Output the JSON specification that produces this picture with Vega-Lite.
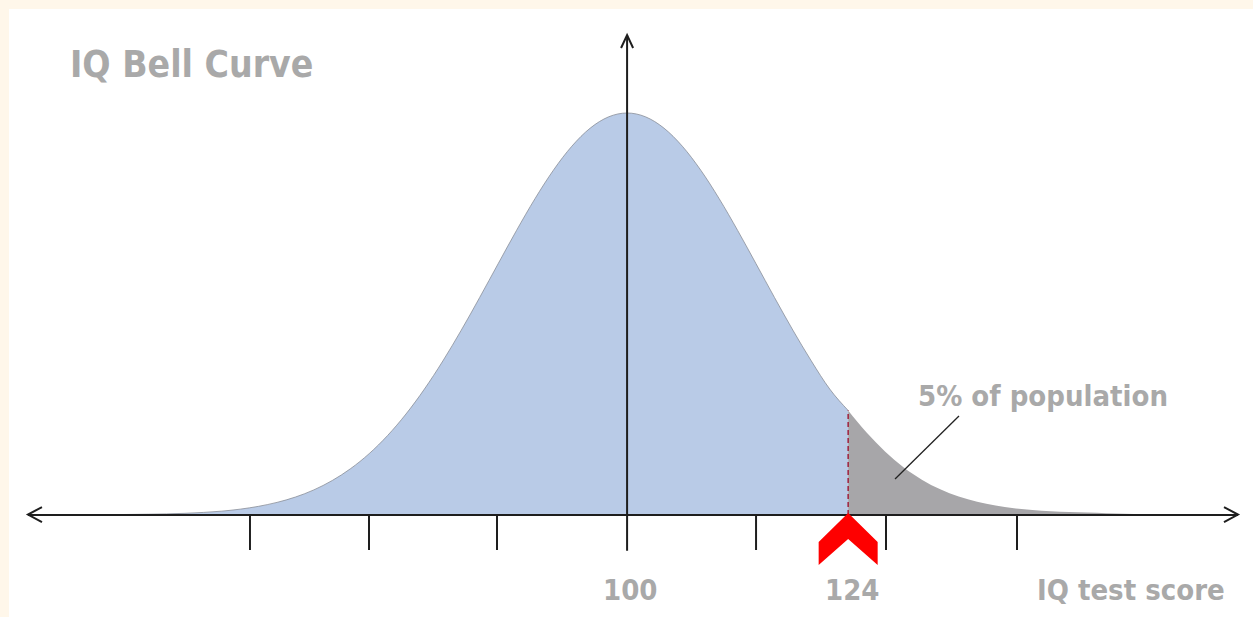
{
  "$schema": "https://vega.github.io/schema/vega-lite/v6.json",
  "width": 1253,
  "height": 617,
  "autosize": {"type": "fit", "contains": "padding"},
  "padding": {"left": 9, "top": 9, "right": 0, "bottom": 0},
  "background": "#fff7ea",
  "config": {"view": {"stroke": null, "fill": "#ffffff"}},
  "datasets": {
    "curve": [
      {"iq": 44.5, "h": 0.1, "part": "main"}, {"iq": 46, "h": 0.14, "part": "main"}, {"iq": 48, "h": 0.2, "part": "main"},
      {"iq": 50, "h": 0.28, "part": "main"}, {"iq": 52, "h": 0.42, "part": "main"}, {"iq": 54, "h": 0.64, "part": "main"},
      {"iq": 56, "h": 0.96, "part": "main"}, {"iq": 58, "h": 1.46, "part": "main"}, {"iq": 60, "h": 2.16, "part": "main"},
      {"iq": 62, "h": 3.14, "part": "main"}, {"iq": 64, "h": 4.47, "part": "main"}, {"iq": 66, "h": 6.25, "part": "main"},
      {"iq": 68, "h": 8.59, "part": "main"}, {"iq": 70, "h": 11.56, "part": "main"}, {"iq": 72, "h": 15.26, "part": "main"},
      {"iq": 74, "h": 19.77, "part": "main"}, {"iq": 76, "h": 25.13, "part": "main"}, {"iq": 78, "h": 31.33, "part": "main"},
      {"iq": 80, "h": 38.32, "part": "main"}, {"iq": 82, "h": 45.98, "part": "main"}, {"iq": 84, "h": 54.12, "part": "main"},
      {"iq": 86, "h": 62.5, "part": "main"}, {"iq": 88, "h": 70.8, "part": "main"}, {"iq": 90, "h": 78.68, "part": "main"},
      {"iq": 92, "h": 85.77, "part": "main"}, {"iq": 94, "h": 91.73, "part": "main"}, {"iq": 96, "h": 96.24, "part": "main"},
      {"iq": 98, "h": 99.05, "part": "main"}, {"iq": 100, "h": 100, "part": "main"}, {"iq": 102, "h": 99.05, "part": "main"},
      {"iq": 104, "h": 96.24, "part": "main"}, {"iq": 106, "h": 91.73, "part": "main"}, {"iq": 108, "h": 85.77, "part": "main"},
      {"iq": 110, "h": 78.68, "part": "main"}, {"iq": 112, "h": 70.8, "part": "main"}, {"iq": 114, "h": 62.5, "part": "main"},
      {"iq": 116, "h": 54.12, "part": "main"}, {"iq": 118, "h": 45.98, "part": "main"}, {"iq": 120, "h": 38.32, "part": "main"},
      {"iq": 122, "h": 31.33, "part": "main"}, {"iq": 124, "h": 26.0, "part": "main"},
      {"iq": 124, "h": 26.0, "part": "tail"}, {"iq": 126, "h": 20.5, "part": "tail"}, {"iq": 128, "h": 15.8, "part": "tail"},
      {"iq": 130, "h": 11.9, "part": "tail"}, {"iq": 132, "h": 8.8, "part": "tail"}, {"iq": 134, "h": 6.4, "part": "tail"},
      {"iq": 136, "h": 4.6, "part": "tail"}, {"iq": 138, "h": 3.3, "part": "tail"}, {"iq": 140, "h": 2.35, "part": "tail"},
      {"iq": 142, "h": 1.7, "part": "tail"}, {"iq": 144, "h": 1.25, "part": "tail"}, {"iq": 146, "h": 0.95, "part": "tail"},
      {"iq": 148, "h": 0.75, "part": "tail"}, {"iq": 150, "h": 0.6, "part": "tail"}, {"iq": 152, "h": 0.45, "part": "tail"},
      {"iq": 154, "h": 0.32, "part": "tail"}, {"iq": 156, "h": 0.18, "part": "tail"}, {"iq": 157.4, "h": 0.05, "part": "tail"}
    ],
    "axes": [
      {"iq": 34.96, "iq2": 166.32, "h": 0, "h2": 0},
      {"iq": 100, "iq2": 100, "h": -8.9, "h2": 119.4},
      {"iq": 59.06, "iq2": 59.06, "h": 0, "h2": -8.71},
      {"iq": 71.98, "iq2": 71.98, "h": 0, "h2": -8.71},
      {"iq": 85.88, "iq2": 85.88, "h": 0, "h2": -8.71},
      {"iq": 114.0, "iq2": 114.0, "h": 0, "h2": -8.71},
      {"iq": 128.11, "iq2": 128.11, "h": 0, "h2": -8.71},
      {"iq": 142.33, "iq2": 142.33, "h": 0, "h2": -8.71}
    ],
    "arrows": [
      {"iq": 34.96, "h": 0.1, "dir": "left"},
      {"iq": 166.32, "h": 0.1, "dir": "right"},
      {"iq": 100, "h": 119.4, "dir": "up"}
    ],
    "cut": [{"iq": 124, "iq2": 124, "h": 0, "h2": 26.0}],
    "leader": [{"iq": 129.09, "iq2": 136.03, "h": 8.96, "h2": 24.63}],
    "marker": [{"iq": 124, "h": -5.97}],
    "title": [{"iq": 39.52, "h": 108.96, "label": "IQ Bell Curve"}],
    "labels": [
      {"iq": 131.58, "h": 27.11, "label": "5% of population"},
      {"iq": 97.39, "h": -21.14, "label": "100"},
      {"iq": 121.49, "h": -21.14, "label": "124"},
      {"iq": 144.5, "h": -21.14, "label": "IQ test score"}
    ]
  },
  "encoding": {
    "x": {"field": "iq", "type": "quantitative", "scale": {"domain": [32.9, 167.95], "nice": false, "zero": false}, "axis": null},
    "y": {"field": "h", "type": "quantitative", "scale": {"domain": [-25.37, 125.87], "nice": false, "zero": false}, "axis": null}
  },
  "layer": [
    {
      "data": {"name": "curve"},
      "mark": {"type": "area", "interpolate": "monotone"},
      "encoding": {
        "y2": {"datum": 0},
        "color": {"field": "part", "type": "nominal", "scale": {"domain": ["main", "tail"], "range": ["#b9cbe7", "#a7a6a9"]}, "legend": null}
      }
    },
    {
      "data": {"name": "curve"},
      "transform": [{"filter": "datum.part === 'main'"}],
      "mark": {"type": "line", "interpolate": "monotone", "stroke": "#8a8f99", "strokeWidth": 1, "opacity": 0.8},
      "encoding": {}
    },
    {
      "data": {"name": "axes"},
      "mark": {"type": "rule", "stroke": "#1e1e1e", "strokeWidth": 2},
      "encoding": {"x2": {"field": "iq2"}, "y2": {"field": "h2"}}
    },
    {
      "data": {"name": "arrows"},
      "mark": {"type": "point", "filled": false, "size": 784, "stroke": "#1e1e1e", "strokeWidth": 2, "opacity": 1},
      "encoding": {
        "shape": {"field": "dir", "type": "nominal", "legend": null,
          "scale": {"domain": ["left", "right", "up"], "range": ["M1,-0.54L0,0L1,0.54", "M-1,-0.54L0,0L-1,0.54", "M-0.43,0.93L0,0L0.43,0.93"]}}
      }
    },
    {
      "data": {"name": "cut"},
      "mark": {"type": "rule", "stroke": "#a0203c", "strokeWidth": 1.5, "strokeDash": [5, 3]},
      "encoding": {"x2": {"field": "iq2"}, "y2": {"field": "h2"}}
    },
    {
      "data": {"name": "leader"},
      "mark": {"type": "rule", "stroke": "#222222", "strokeWidth": 1.3},
      "encoding": {"x2": {"field": "iq2"}, "y2": {"field": "h2"}}
    },
    {
      "data": {"name": "marker"},
      "mark": {"type": "point", "filled": true, "size": 3481, "fill": "#fe0000", "strokeWidth": 0, "opacity": 1,
        "shape": "M0,-0.88L1,0.1L1,0.88L0,0L-1,0.88L-1,0.1Z"},
      "encoding": {}
    },
    {
      "data": {"name": "title"},
      "mark": {"type": "text", "align": "left", "baseline": "alphabetic", "font": "DejaVu Sans Condensed, DejaVu Sans, sans-serif", "fontWeight": "bold", "fontSize": 37, "fill": "#a9a9a9"},
      "encoding": {"text": {"field": "label"}}
    },
    {
      "data": {"name": "labels"},
      "mark": {"type": "text", "align": "left", "baseline": "alphabetic", "font": "DejaVu Sans Condensed, DejaVu Sans, sans-serif", "fontWeight": "bold", "fontSize": 29, "fill": "#a9a9a9"},
      "encoding": {"text": {"field": "label"}}
    }
  ]
}
